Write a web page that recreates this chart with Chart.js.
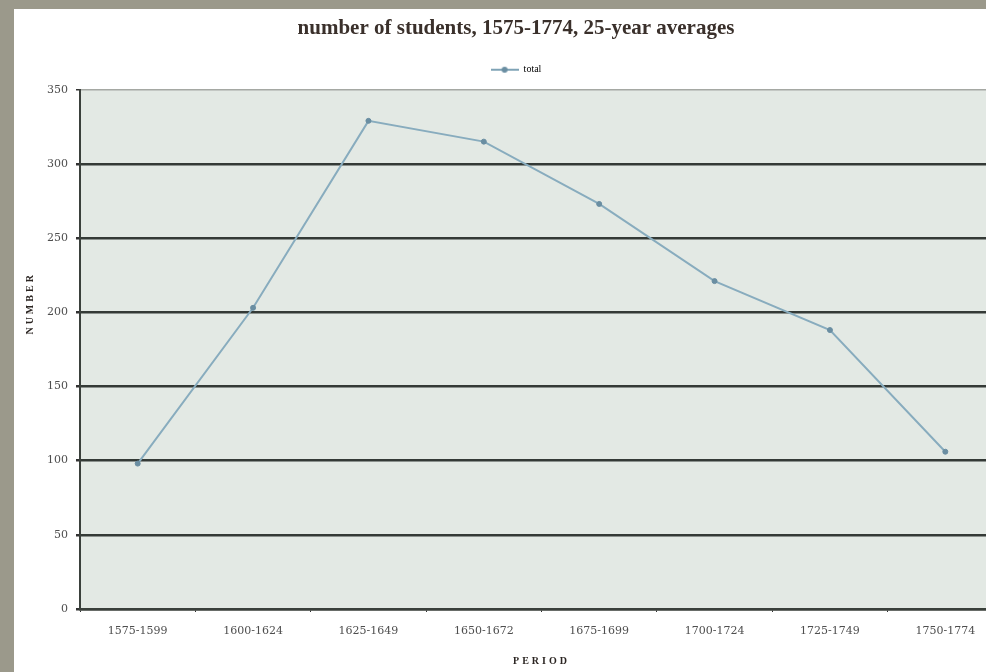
<!DOCTYPE html>
<html>
<head>
<meta charset="utf-8">
<script src="https://cdn.jsdelivr.net/npm/chart.js@4.4.1/dist/chart.umd.min.js"></script>
<style>
  html, body { margin: 0; padding: 0; background: #9b998b; overflow: hidden; }
  #wrap { position: absolute; left: 14px; top: 9px; width: 1000px; height: 663px; background: #ffffff; }
  #line-chart { position: absolute; left: 10px; top: 0; }
</style>
</head>
<body>
<div id="wrap"><canvas id="line-chart" width="984" height="663"></canvas></div>
<script>
// periods and values
const periods = ['1575-1599', '1600-1624', '1625-1649', '1650-1672', '1675-1699', '1700-1724', '1725-1749', '1750-1774'];
const totals = [98, 203, 329, 315, 273, 221, 188, 106];
const yTicks = [0, 50, 100, 150, 200, 250, 300, 350];

// legend marker: short line with a dot in the middle
const marker = document.createElement('canvas');
marker.width = 28; marker.height = 10;
(function() {
  const m = marker.getContext('2d');
  m.strokeStyle = '#7fa3b6';
  m.lineWidth = 2;
  m.beginPath(); m.moveTo(0, 5); m.lineTo(28, 5); m.stroke();
  m.fillStyle = '#6a8ea2';
  m.beginPath(); m.arc(14, 5, 3, 0, Math.PI * 2); m.fill();
})();

// plot area background
const plotBg = {
  id: 'plotBg',
  beforeDraw(chart) {
    const a = chart.chartArea, c = chart.ctx;
    c.save();
    c.fillStyle = '#e3e9e4';
    c.fillRect(a.left, a.top, a.right - a.left, a.bottom - a.top);
    c.restore();
  }
};

const serif = "'Liberation Serif', 'DejaVu Serif', serif";
const tickFont = "'DejaVu Serif', serif";

const chart = new Chart(document.getElementById('line-chart').getContext('2d'), {
  type: 'line',
  data: {
    labels: periods,
    datasets: [{
      label: 'total',
      data: totals,
      borderColor: '#88acbe',
      borderWidth: 2,
      pointRadius: 2.5,
      pointBorderWidth: 1,
      pointBackgroundColor: '#6a8ea2',
      pointBorderColor: '#6a8ea2',
      pointStyle: 'circle',
      tension: 0
    }]
  },
  options: {
    responsive: false,
    animation: false,
    layout: { padding: { top: 7, right: 0, bottom: 0, left: 0 } },
    plugins: {
      title: {
        display: true,
        text: 'number of students, 1575-1774, 25-year averages',
        color: '#3a302b',
        font: { family: serif, size: 21, weight: 'bold' },
        padding: { top: 0, bottom: 9 }
      },
      legend: {
        display: true,
        labels: {
          usePointStyle: true,
          pointStyleWidth: 28,
          color: '#444',
          font: { family: serif, size: 10 },
          padding: 14.5,
          generateLabels() {
            return [{ text: 'total', pointStyle: marker, fillStyle: '#7fa3b6', strokeStyle: '#7fa3b6', lineWidth: 0, datasetIndex: 0 }];
          }
        }
      },
      tooltip: { enabled: false }
    },
    scales: {
      x: {
        offset: true,
        afterFit(scale) { scale.height = 63; },
        grid: {
          offset: true,
          drawOnChartArea: false,
          drawTicks: true,
          tickLength: 3,
          tickColor: '#333'
        },
        border: { color: '#3a403b', width: 2.5 },
        ticks: {
          color: '#4e4e4e',
          font: { family: tickFont, size: 11 },
          padding: 13,
          maxRotation: 0
        },
        title: {
          display: true,
          text: 'PERIOD',
          color: '#2b2522',
          font: { family: serif, size: 10, weight: 'bold' },
          padding: { top: 8, bottom: 5 }
        }
      },
      y: {
        min: 0,
        max: 350,
        afterBuildTicks(scale) { scale.ticks = yTicks.map(v => ({ value: v })); },
        afterFit(scale) { scale.width = 56; },
        grid: {
          color(ctx) { return ctx.tick && ctx.tick.value === 350 ? '#a5a8a3' : '#343a36'; },
          lineWidth(ctx) { return ctx.tick && ctx.tick.value === 350 ? 1.5 : 2.5; },
          tickLength: 4,
          tickColor: '#333'
        },
        border: { color: '#3a403b', width: 2 },
        ticks: {
          color: '#4e4e4e',
          font: { family: tickFont, size: 11 },
          padding: 8
        },
        title: {
          display: true,
          text: 'NUMBER',
          color: '#2b2522',
          font: { family: serif, size: 10, weight: 'bold' },
          padding: { top: 0, bottom: 4 }
        }
      }
    }
  },
  plugins: [plotBg]
});

// spaced capitals for the axis titles; the y title sits above the middle
function spaceTitle(scale, shiftY) {
  const orig = scale.drawTitle.bind(scale);
  scale.drawTitle = function() {
    const c = this.ctx;
    c.save();
    c.letterSpacing = '3px';
    c.translate(0, shiftY);
    orig();
    c.restore();
  };
}
spaceTitle(chart.scales.x, 0);
spaceTitle(chart.scales.y, -46);

// a bit more room under the legend
const legendFit = chart.legend.fit.bind(chart.legend);
chart.legend.fit = function() {
  legendFit();
  this.height += 5;
};
chart.update();
</script>
</body>
</html>
